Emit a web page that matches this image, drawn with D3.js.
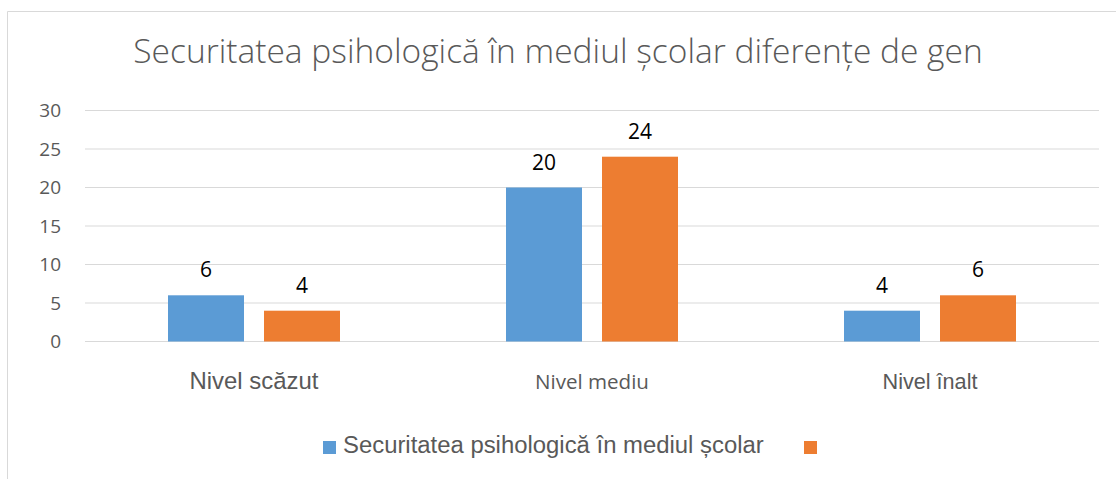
<!DOCTYPE html>
<html>
<head>
<meta charset="utf-8">
<script src="https://cdn.jsdelivr.net/npm/d3@7"></script>
<style>
  body { margin: 0; background: #fff; }
  svg { display: block; }
</style>
</head>
<body>
<div id="chart"></div>
<script>
const title = 'Securitatea psihologică în mediul școlar diferențe de gen'
const categories = ['Nivel scăzut', 'Nivel mediu', 'Nivel înalt']
const seriesNames = ['Securitatea psihologică în mediul școlar', '']
const seriesA = [6, 20, 4]
const seriesB = [4, 24, 6]
const yTicks = [0, 5, 10, 15, 20, 25, 30]
const colors = ['#5B9BD5', '#ED7D31']

const chartWidth = 1116
const chartHeight = 479
const margin = { top: 110.5, right: 17, bottom: 137.5, left: 85 }
const width = chartWidth - margin.left - margin.right
const height = chartHeight - margin.top - margin.bottom

// scale a text's font size so it spans the given width
function fitText(sel, targetWidth) {
  sel.each(function () {
    const node = this
    const size = parseFloat(node.getAttribute('font-size'))
    const len = node.getComputedTextLength()
    if (len > 0) node.setAttribute('font-size', size * targetWidth / len)
  })
}

const svg = d3.select('#chart')
  .append('svg')
    .attr('width', chartWidth)
    .attr('height', chartHeight)

// chart frame (top and left edges visible)
svg.append('path')
  .attr('d', `M7.5,${chartHeight} V11.5 H${chartWidth}`)
  .attr('fill', 'none')
  .attr('stroke', '#d9d9d9')
  .attr('stroke-width', 1)

svg.append('text')
  .attr('x', 558)
  .attr('y', 63)
  .attr('text-anchor', 'middle')
  .attr('font-family', 'Open Sans')
  .attr('font-weight', 300)
  .attr('font-size', 30)
  .attr('fill', '#595959')
  .text(title)
  .call(fitText, 850)

const g = svg.append('g')
  .attr('transform', `translate(${margin.left}, ${margin.top})`)

const x = d3.scaleBand()
  .domain(categories)
  .range([0, width])

const inner = d3.scaleBand()
  .domain([0, 1])
  .range([83, x.bandwidth() - 83])
  .paddingInner(20 / 96)

const y = d3.scaleLinear()
  .domain([0, 30])
  .range([height, 0])

// gridlines
g.append('g')
  .selectAll('line')
  .data(yTicks)
  .enter()
  .append('line')
    .attr('x1', 0)
    .attr('x2', width)
    .attr('y1', d => y(d))
    .attr('y2', d => y(d))
    .attr('stroke', '#d9d9d9')
    .attr('stroke-width', 1)

// y axis labels
const yAxis = g.append('g')
  .call(d3.axisLeft(y).tickValues(yTicks).tickSize(0).tickPadding(24))
yAxis.select('.domain').remove()
yAxis.selectAll('text')
  .attr('font-family', 'Open Sans')
  .attr('font-size', 19)
  .attr('fill', '#595959')

const series = [seriesA, seriesB]
series.forEach((values, s) => {
  g.append('g')
    .selectAll('rect')
    .data(values)
    .enter()
    .append('rect')
      .attr('x', (d, i) => x(categories[i]) + inner(s))
      .attr('y', d => y(d))
      .attr('width', inner.bandwidth())
      .attr('height', d => height - y(d))
      .attr('fill', colors[s])

  g.append('g')
    .selectAll('text')
    .data(values)
    .enter()
    .append('text')
      .attr('x', (d, i) => x(categories[i]) + inner(s) + inner.bandwidth() / 2)
      .attr('y', d => y(d) - 18)
      .attr('text-anchor', 'middle')
      .attr('font-family', 'Open Sans')
      .attr('font-size', 21)
      .attr('fill', '#000')
      .text(d => d)
})

// category labels (the original mixes fonts and sizes)
const catFonts = ['Liberation Sans', 'Open Sans', 'Liberation Sans']
const catWidths = [129, 114, 95]
g.append('g')
  .selectAll('text')
  .data(categories)
  .enter()
  .append('text')
    .attr('x', d => x(d) + x.bandwidth() / 2)
    .attr('y', height + 47.5)
    .attr('text-anchor', 'middle')
    .attr('font-family', (d, i) => catFonts[i])
    .attr('font-size', 18)
    .attr('fill', '#595959')
    .text(d => d)
    .each(function (d, i) { fitText(d3.select(this), catWidths[i]) })

// legend
const legend = svg.append('g')
legend.append('rect')
  .attr('x', 323).attr('y', 441)
  .attr('width', 13).attr('height', 13)
  .attr('fill', colors[0])
legend.append('text')
  .attr('x', 343).attr('y', 453)
  .attr('font-family', 'Liberation Sans')
  .attr('font-size', 20)
  .attr('fill', '#595959')
  .text(seriesNames[0])
  .call(fitText, 421)
legend.append('rect')
  .attr('x', 804).attr('y', 441)
  .attr('width', 13).attr('height', 13)
  .attr('fill', colors[1])
</script>
</body>
</html>
